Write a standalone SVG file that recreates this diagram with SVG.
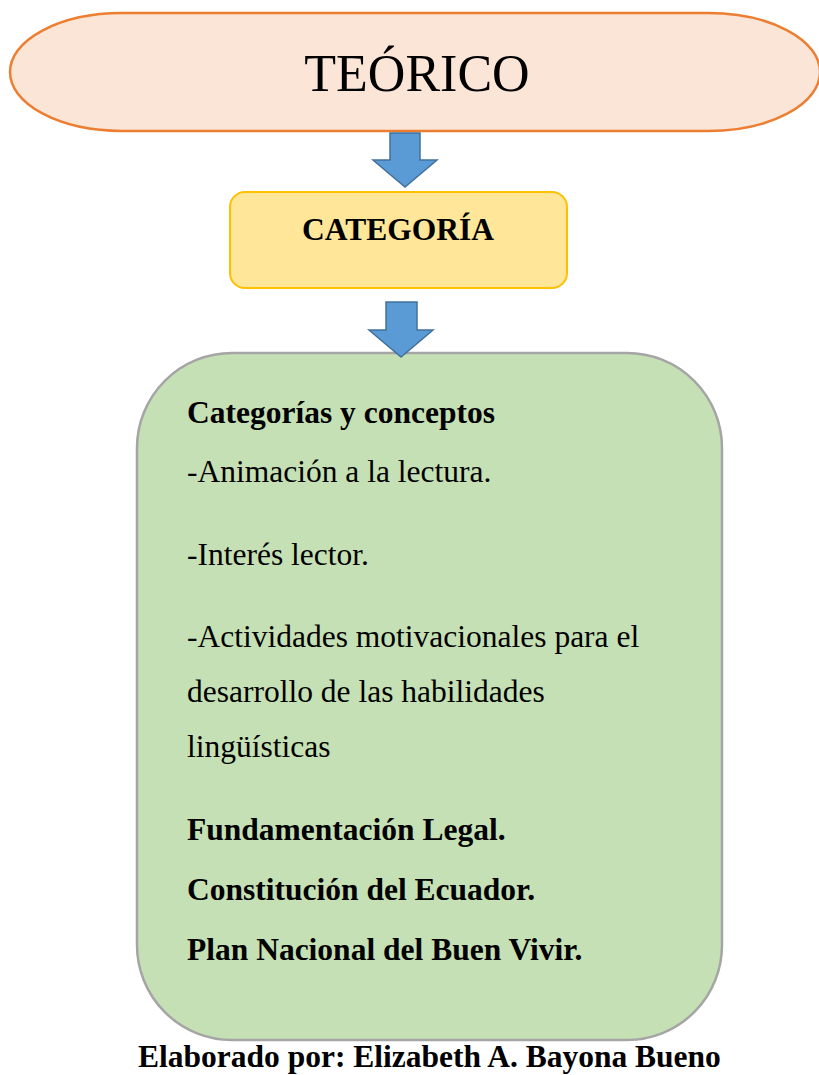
<svg xmlns="http://www.w3.org/2000/svg" width="819" height="1075" viewBox="0 0 819 1075">
<style>
.t{font-family:"Liberation Serif","Times New Roman",serif;fill:#000}
.b{font-weight:bold}
.s{font-size:31.5px}
.arrow{fill:#5B9BD5;stroke:#41719C;stroke-width:1.5;stroke-linejoin:miter}
</style>
<rect width="819" height="1075" fill="#fff"/>
<g id="teorico">
<rect x="10" y="13" width="810" height="118" rx="112" ry="59" fill="#FBE5D6" stroke="#ED7D31" stroke-width="2.5"/>
<text class="t" x="417" y="91" font-size="52" text-anchor="middle">TEÓRICO</text>
</g>
<g id="categoria">
<rect x="230" y="192" width="337" height="96" rx="15" fill="#FFE699" stroke="#FFC000" stroke-width="2"/>
<text class="t b" x="398" y="240" font-size="31.5" text-anchor="middle">CATEGORÍA</text>
</g>
<g id="contenido">
<rect x="137" y="353" width="585" height="687" rx="95" fill="#C5E0B4" stroke="#A5A5A5" stroke-width="2.5"/>
<text class="t b s" x="187" y="423">Categorías y conceptos</text>
<text class="t s" x="187" y="482">-Animación a la lectura.</text>
<text class="t s" x="187" y="565">-Interés lector.</text>
<text class="t s" x="187" y="647">-Actividades motivacionales para el</text>
<text class="t s" x="187" y="702">desarrollo de las habilidades</text>
<text class="t s" x="187" y="757">lingüísticas</text>
<text class="t b s" x="187" y="840">Fundamentación Legal.</text>
<text class="t b s" x="187" y="900">Constitución del Ecuador.</text>
<text class="t b s" x="187" y="960">Plan Nacional del Buen Vivir.</text>
</g>
<g id="connectors">
<path class="arrow" d="M390,133 L420,133 L420,160 L437,160 L405,187 L373,160 L390,160 Z"/>
<path class="arrow" d="M386,302 L417,302 L417,330 L433,330 L401,357 L369,330 L386,330 Z"/>
</g>
<g id="footer">
<text class="t b s" x="138" y="1067">Elaborado por: Elizabeth A. Bayona Bueno</text>
</g>
</svg>
